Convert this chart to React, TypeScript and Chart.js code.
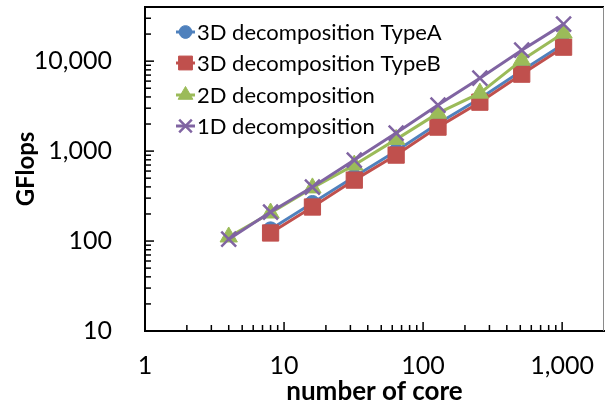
import React, { useEffect, useRef } from "react";
import { Chart, registerables } from "chart.js";
import { drawPoint } from "chart.js/helpers";

Chart.register(...registerables);

const cores = [4, 8, 16, 32, 64, 128, 256, 512, 1024];
const typeA = [null, 135, 265, 520, 1000, 2030, 3850, 7800, 15500];
const typeB = [null, 123, 239, 476, 903, 1848, 3500, 7170, 14310];
const decomp2D = [111, 205, 390, 700, 1350, 2640, 4410, 10260, 20500];
const decomp1D = [105, 210, 398, 794, 1585, 3245, 6470, 13250, 25800];

const seriesNames = ["3D decomposition TypeA", "3D decomposition TypeB", "2D decomposition", "1D decomposition"];
const seriesColors = ["#4F81BD", "#C0504D", "#9BBB59", "#8064A2"];
const seriesStyles = ["circle", "rect", "triangle", "crossRot"];
const seriesRadius = [7.5, 11.5, 10, 10.5];

const xMajorTicks = [1, 10, 100, 1000];
const yMajorTicks = [10, 100, 1000, 10000];
const xMin = 1, xMax = 2000, yMin = 10, yMax = 40000;

const FONT = "Lato";

function buildTicks(majors: number[], max: number) {
  const out: number[] = [];
  majors.forEach((m) => {
    for (let k = 1; k <= 9; k++) {
      const v = m * k;
      if (v <= max) out.push(v);
    }
  });
  return out;
}

const isMajor = (v: number) => {
  const l = Math.log10(v);
  return Math.abs(l - Math.round(l)) < 1e-9;
};

function drawFrame(chart: any) {
  const ctx = chart.ctx;
  const { left, right, top, bottom } = chart.chartArea;
  const xs = chart.scales.x;
  const ys = chart.scales.y;
  ctx.save();
  ctx.strokeStyle = "#000";
  ctx.lineWidth = 1.5;
  buildTicks(xMajorTicks, xMax).forEach((v) => {
    const px = xs.getPixelForValue(v);
    if (px <= left + 0.5 || px >= right) return;
    const len = isMajor(v) ? 9 : 6;
    ctx.beginPath();
    ctx.moveTo(px, bottom);
    ctx.lineTo(px, bottom - len);
    ctx.stroke();
  });
  buildTicks(yMajorTicks, yMax).forEach((v) => {
    const py = ys.getPixelForValue(v);
    if (py >= bottom - 0.5 || py <= top) return;
    const len = isMajor(v) ? 9 : 6;
    ctx.beginPath();
    ctx.moveTo(left, py);
    ctx.lineTo(left + len, py);
    ctx.stroke();
  });
  ctx.lineWidth = 2;
  ctx.beginPath();
  ctx.moveTo(left, top);
  ctx.lineTo(right, top);
  ctx.stroke();
  ctx.strokeStyle = "#8a8a8a";
  ctx.lineWidth = 1;
  ctx.beginPath();
  ctx.moveTo(right - 0.5, top);
  ctx.lineTo(right - 0.5, bottom);
  ctx.stroke();
  ctx.restore();
}

function drawLegend(chart: any) {
  const ctx = chart.ctx;
  ctx.save();
  const rowY = [32, 63, 95, 126];
  seriesNames.forEach((name, i) => {
    const y = rowY[i];
    ctx.strokeStyle = seriesColors[i];
    ctx.lineWidth = 3;
    ctx.beginPath();
    ctx.moveTo(176, y);
    ctx.lineTo(195, y);
    ctx.stroke();
    ctx.fillStyle = seriesColors[i];
    ctx.strokeStyle = seriesColors[i];
    ctx.lineWidth = seriesStyles[i] === "crossRot" ? 2.5 : 1;
    drawPoint(ctx, { pointStyle: seriesStyles[i], radius: seriesRadius[i] * 0.85, rotation: 0, borderWidth: 1 } as any, 185.5, y);
    ctx.fillStyle = "#000";
    ctx.font = `22px ${FONT}`;
    ctx.textAlign = "left";
    ctx.textBaseline = "middle";
    ctx.fillText(name, 197, y + 1);
  });
  ctx.restore();
}

const framePlugin = {
  id: "frameAndLegend",
  afterDraw(chart: any) {
    drawFrame(chart);
    drawLegend(chart);
  },
};

const zeroPad = (s: any) => {
  s.paddingTop = 0;
  s.paddingBottom = 0;
  s.paddingLeft = 0;
  s.paddingRight = 0;
};

export default function App() {
  const ref = useRef<HTMLCanvasElement>(null);
  useEffect(() => {
    if (!ref.current) return;
    const allSeries = [typeA, typeB, decomp2D, decomp1D];
    const chart = new Chart(ref.current, {
      type: "line",
      data: {
        datasets: allSeries.map((s, i) => ({
          label: seriesNames[i],
          data: cores.map((c, j) => ({ x: c, y: s[j] })).filter((p) => p.y !== null) as any,
          borderColor: seriesColors[i],
          backgroundColor: seriesColors[i],
          pointBackgroundColor: seriesColors[i],
          pointBorderColor: seriesColors[i],
          pointStyle: seriesStyles[i] as any,
          pointRadius: seriesRadius[i],
          pointBorderWidth: seriesStyles[i] === "crossRot" ? 2.5 : 1,
          borderWidth: 3,
          tension: 0,
          order: 4 - i,
        })),
      },
      options: {
        animation: false,
        responsive: false,
        devicePixelRatio: 1,
        layout: { autoPadding: false, padding: { top: 7, right: 1, left: 0, bottom: 0 } },
        plugins: { legend: { display: false }, tooltip: { enabled: false } },
        scales: {
          x: {
            type: "logarithmic",
            min: xMin,
            max: xMax,
            afterBuildTicks: (s: any) => {
              s.ticks = xMajorTicks.map((v) => ({ value: v }));
            },
            afterFit: (s: any) => {
              s.height = 75;
              zeroPad(s);
            },
            grid: { display: false, drawTicks: false, tickLength: 0 },
            border: { display: true, color: "#000", width: 2 },
            ticks: {
              autoSkip: false,
              maxRotation: 0,
              padding: 20,
              color: "#000",
              font: { family: FONT, size: 25 },
              callback: (v: any) => Number(v).toLocaleString("en-US"),
            },
            title: {
              display: true,
              text: "number of core",
              color: "#000",
              font: { family: FONT, size: 26, weight: "bold", lineHeight: 1 },
              padding: { top: 0, bottom: 1 },
            },
          },
          y: {
            type: "logarithmic",
            min: yMin,
            max: yMax,
            afterBuildTicks: (s: any) => {
              s.ticks = yMajorTicks.map((v) => ({ value: v }));
            },
            afterFit: (s: any) => {
              s.width = 145;
              zeroPad(s);
            },
            grid: { display: false, drawTicks: false, tickLength: 0 },
            border: { display: true, color: "#000", width: 2 },
            ticks: {
              autoSkip: false,
              padding: 33,
              color: "#000",
              font: { family: FONT, size: 25 },
              callback: (v: any) => Number(v).toLocaleString("en-US"),
            },
            title: {
              display: true,
              text: "GFlops",
              color: "#000",
              font: { family: FONT, size: 24, weight: "bold", lineHeight: 1 },
              padding: { top: 14, bottom: 0 },
            },
          },
        },
      },
      plugins: [framePlugin],
    });
    return () => chart.destroy();
  }, []);
  return (
    <div style={{ position: "fixed", left: 0, top: 0, width: 605, height: 406, background: "#fff" }}>
      <canvas ref={ref} width={605} height={406} />
    </div>
  );
}
